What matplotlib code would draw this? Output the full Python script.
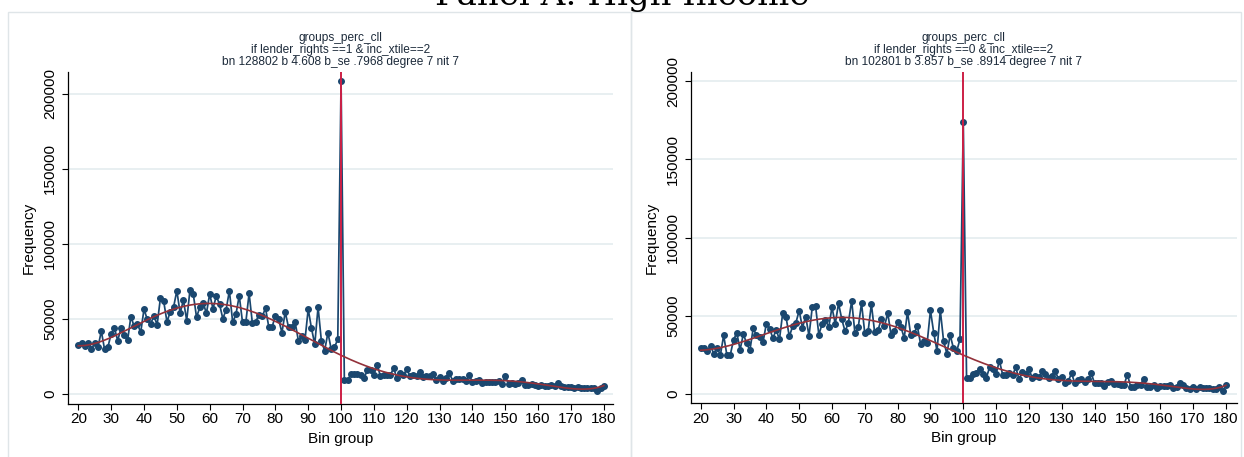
import numpy as np
import matplotlib
matplotlib.use("Agg")
import matplotlib.pyplot as plt
from matplotlib.patches import Rectangle

plt.rcParams['font.family'] = ['Liberation Sans', 'DejaVu Sans']

# ---- data -----------------------------------------------------------------
bins = list(range(20, 181))

# lender_rights == 1, inc_xtile == 2 (frequencies in thousands)
freq_l1_below = [
    32.7, 34.0, 32.0, 34.0, 30.0, 33.5, 31.0, 41.8, 29.5, 31.0,
    40.0, 43.8, 35.3, 44.0, 39.0, 35.5, 51.4, 45.0, 46.5, 41.0,
    56.3, 49.6, 46.5, 51.8, 46.0, 63.8, 61.6, 47.9, 54.8, 57.7,
    68.7, 53.7, 62.5, 48.8, 69.2, 66.5, 51.0, 57.7, 60.8, 53.6,
    66.5, 56.7, 65.0, 59.8, 50.0, 56.0, 68.7, 47.6, 53.0, 65.4,
    47.6, 47.6, 67.0, 47.0, 48.0, 52.5, 51.7, 57.0, 44.5, 44.5,
    52.0, 49.6, 40.7, 54.5, 44.3, 44.3, 48.0, 35.4, 38.5, 35.6,
    56.5, 43.5, 33.0, 57.8, 35.4, 28.7, 40.7, 29.8, 31.0, 36.3,
]
freq_l1_at = 208.6
freq_l1_above = [
    9.1, 9.1, 12.9, 13.1, 13.1, 12.4, 10.5, 15.6, 15.6, 12.8,
    19.0, 11.8, 12.4, 12.6, 12.2, 17.2, 10.4, 13.6, 12.4, 16.2,
    11.6, 12.2, 11.8, 14.4, 11.2, 11.8, 11.5, 13.2, 9.2, 11.0,
    8.4, 10.8, 13.6, 8.6, 9.8, 9.6, 9.9, 8.4, 12.4, 8.0,
    8.8, 9.2, 7.4, 8.0, 7.6, 7.9, 7.5, 8.6, 6.4, 11.7,
    6.6, 6.9, 6.7, 7.2, 9.0, 6.1, 5.6, 6.2, 6.0, 5.3,
    5.8, 5.4, 4.9, 6.0, 5.4, 7.2, 5.0, 4.6, 4.4, 4.5,
    3.9, 4.2, 3.6, 4.0, 3.7, 3.5, 3.9, 1.9, 3.7, 4.9,
]

# lender_rights == 0, inc_xtile == 2 (frequencies in thousands)
freq_l0_below = [
    29.2, 29.4, 27.5, 30.7, 25.8, 29.6, 24.9, 37.5, 24.7, 24.9,
    34.5, 39.2, 28.3, 38.3, 32.4, 28.0, 42.0, 37.5, 36.4, 33.2,
    44.9, 41.7, 35.8, 40.9, 34.9, 52.0, 49.2, 36.8, 43.2, 45.5,
    53.3, 42.5, 49.4, 37.3, 55.6, 56.2, 37.9, 44.9, 47.5, 42.6,
    55.4, 44.9, 58.0, 47.7, 40.0, 45.6, 59.6, 38.8, 42.6, 58.0,
    38.8, 40.0, 57.5, 39.4, 40.7, 47.7, 43.4, 51.8, 37.7, 40.0,
    45.8, 43.0, 35.8, 52.6, 37.5, 38.8, 43.4, 32.0, 33.7, 32.8,
    53.5, 39.2, 27.5, 53.7, 33.9, 25.8, 37.7, 29.4, 27.5, 35.0,
]
freq_l0_at = 174.0
freq_l0_above = [
    10.2, 10.2, 12.8, 13.2, 16.2, 12.8, 10.2, 17.0, 16.2, 12.8,
    21.3, 12.4, 12.4, 13.2, 12.0, 17.0, 9.4, 14.1, 12.8, 16.2,
    10.2, 11.5, 10.6, 14.5, 12.8, 10.2, 11.5, 14.5, 9.8, 11.1,
    6.8, 8.5, 13.2, 6.8, 8.9, 9.4, 7.7, 9.4, 13.2, 6.8,
    7.2, 7.2, 5.1, 7.7, 8.5, 6.4, 6.4, 5.5, 6.0, 12.4,
    4.7, 4.7, 5.5, 6.0, 9.8, 4.7, 4.7, 6.0, 3.8, 5.1,
    5.1, 5.1, 6.0, 3.8, 4.7, 7.2, 6.0, 3.8, 3.4, 4.7,
    3.4, 4.3, 3.8, 3.8, 3.8, 3.4, 3.4, 4.3, 1.7, 5.5,
]

titles = [
    "groups_perc_cll\nif lender_rights ==1 & inc_xtile==2\n"
    "bn 128802 b 4.608 b_se .7968 degree 7 nit 7",
    "groups_perc_cll\nif lender_rights ==0 & inc_xtile==2\n"
    "bn 102801 b 3.857 b_se .8914 degree 7 nit 7",
]
xticks = list(range(20, 181, 10))
yticks = [0, 50000, 100000, 150000, 200000]
threshold = 100
poly_degree = 7

# ---- styling ----------------------------------------------------------------
NAVY = '#1a476f'
MAROON = '#93313a'
VLINE = '#cc1f45'
GRID = '#e6eef0'
TITLE_C = '#1c2a3a'
FRAME = '#dfe5e8'

W, H = 1244, 457
fig = plt.figure(figsize=(W / 100, H / 100), dpi=100)


def fpos(x0, x1, ytop, ybot):
    return [x0 / W, 1 - ybot / H, (x1 - x0) / W, (ybot - ytop) / H]


# panel frames
for x0, x1 in [(8, 631), (631, 1241)]:
    fig.patches.append(Rectangle((x0 / W, -0.01), (x1 - x0) / W, 1 - 12 / H + 0.01,
                                 transform=fig.transFigure, fill=False,
                                 edgecolor=FRAME, lw=1.0))

fig.text(0.5, 1 - 5 / H, "Panel A: High Income", ha='center', va='baseline',
         family='DejaVu Serif', fontsize=24.5, color='black')

panels = [
    dict(pos=fpos(68, 613, 71.7, 404), xlim=(16.86, 182.8), ylim=(-6870, 214800),
         below=freq_l1_below, at=freq_l1_at, above=freq_l1_above, title=titles[0]),
    dict(pos=fpos(691, 1236.7, 71.7, 403.3), xlim=(17.05, 183.3), ylim=(-5900, 206000),
         below=freq_l0_below, at=freq_l0_at, above=freq_l0_above, title=titles[1]),
]

for p in panels:
    ax = fig.add_axes(p['pos'])
    freq = np.array(p['below'] + [p['at']] + p['above']) * 1000
    x = np.array(bins, dtype=float)

    # polynomial counterfactual fitted without the threshold bin
    keep = x != threshold
    fit = np.polynomial.Polynomial.fit(x[keep], freq[keep], poly_degree)
    xs = np.linspace(x.min(), x.max(), 400)

    for yt in yticks:
        ax.axhline(yt, color=GRID, lw=1.3, zorder=0)

    ax.plot(x, freq, color=NAVY, lw=1.25, marker='o', markersize=4.0,
            markerfacecolor=NAVY, markeredgecolor=NAVY, zorder=3)
    ax.plot(xs, fit(xs), color=MAROON, lw=1.2, zorder=4)
    ax.axvline(threshold, color=VLINE, lw=1.4, zorder=5)

    ax.set_xlim(*p['xlim'])
    ax.set_ylim(*p['ylim'])
    ax.set_xticks(xticks)
    ax.set_yticks(yticks)
    ax.set_yticklabels([str(v) for v in yticks], rotation=90, va='center')
    ax.tick_params(direction='out', length=4, width=0.8, labelsize=11,
                   colors='black')
    ax.tick_params(axis='x', pad=2)
    ax.tick_params(axis='y', pad=4)
    for s in ['top', 'right']:
        ax.spines[s].set_visible(False)
    for s in ['left', 'bottom']:
        ax.spines[s].set_linewidth(0.9)
    ax.set_xlabel("Bin group", fontsize=11, labelpad=4)
    ax.set_ylabel("Frequency", fontsize=11, labelpad=5)

    # three-line panel title
    bb = ax.get_position()
    cx = (bb.x0 + bb.x1) / 2
    for i, line in enumerate(p['title'].split('\n')):
        fig.text(cx, 1 - (38 + 12 * i) / H, line, ha='center', va='center',
                 fontsize=8.6, color=TITLE_C)

fig.savefig("out.png", dpi=100)
